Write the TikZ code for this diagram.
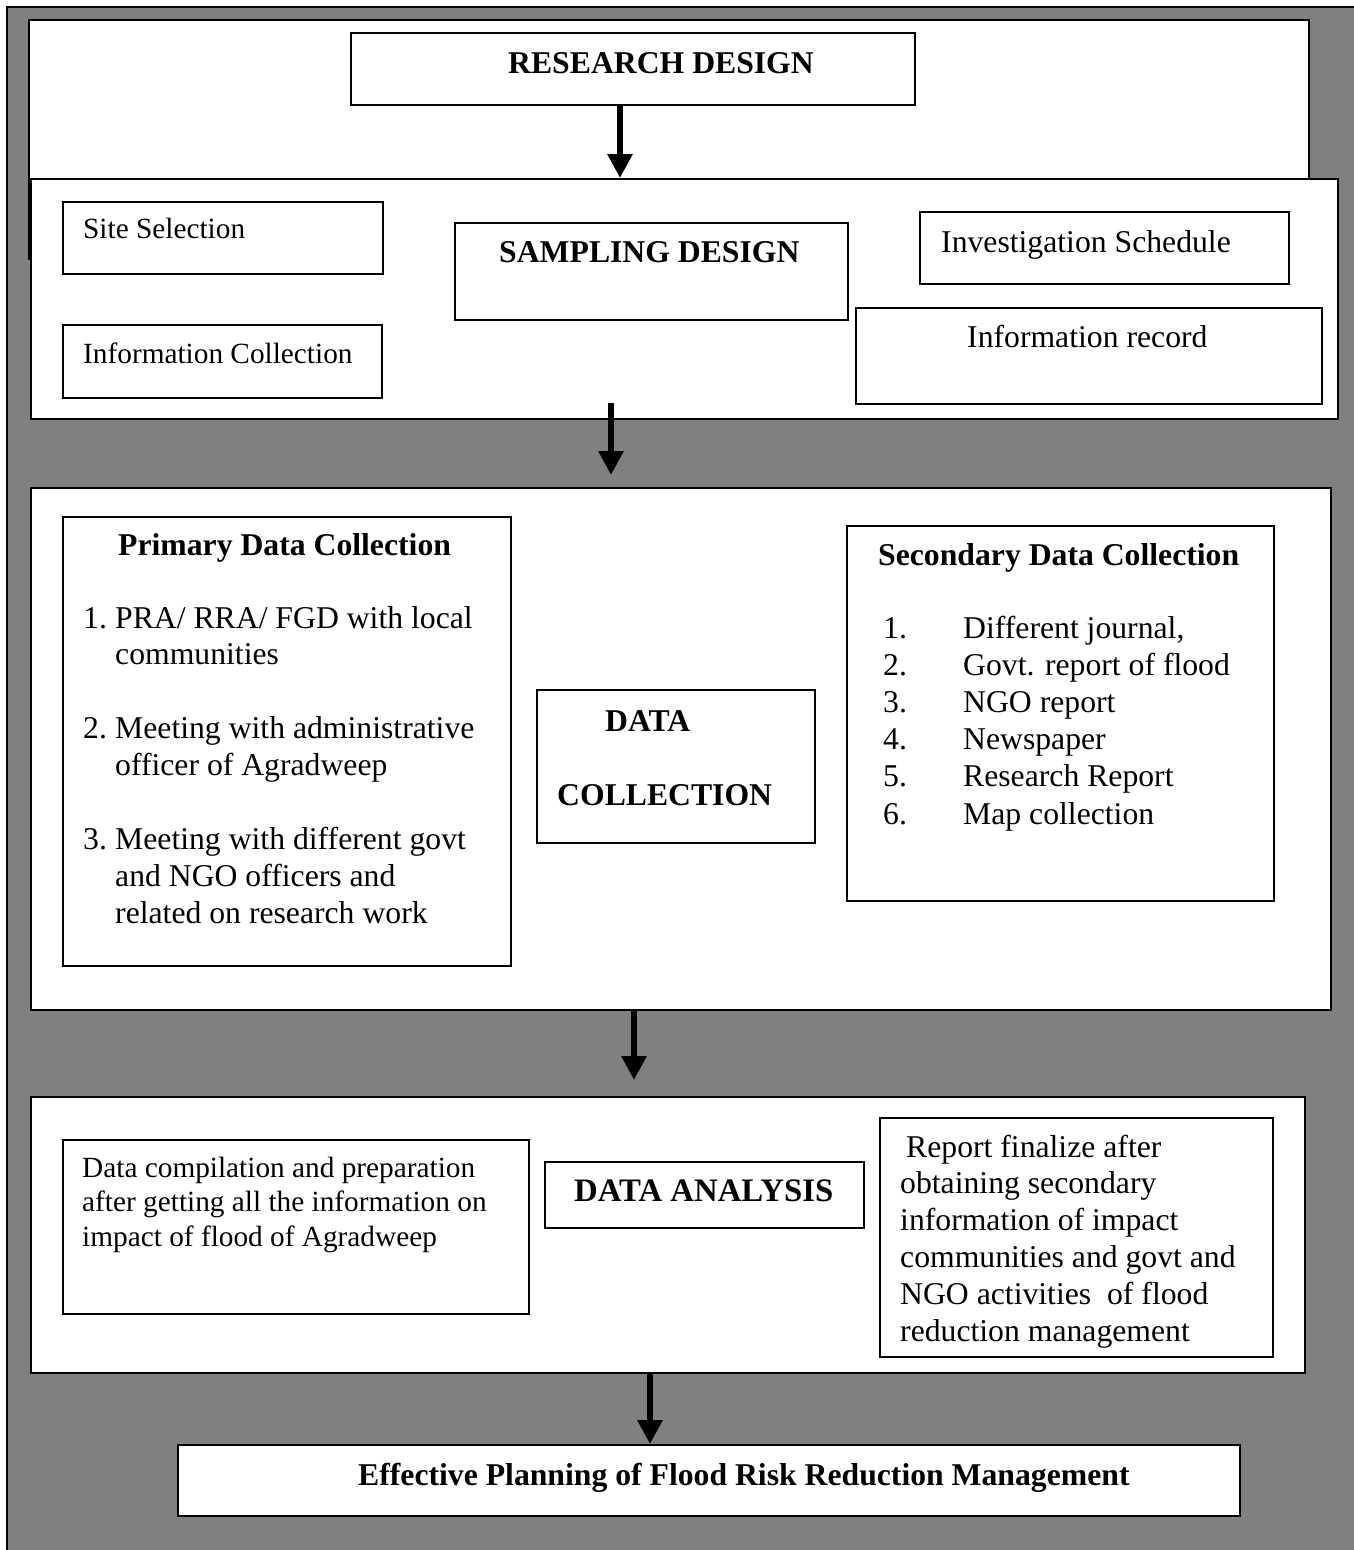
\documentclass[tikz,border=0pt]{standalone}
\usepackage{fontspec}
\setmainfont{Liberation Serif}
\usetikzlibrary{arrows.meta}
\definecolor{bggray}{HTML}{808080}
\newcommand\tlines[2]{\vtop{\baselineskip=#1\lineskiplimit=-1000pt\lineskip=0pt #2}}
\tikzset{
 panel/.style={draw=black, fill=white, line width=2pt, inner sep=0pt, anchor=north west},
 bx/.style={draw=black, fill=white, line width=1.6pt, inner sep=0pt, anchor=north west},
 txt/.style={anchor=base west, inner sep=0pt, font=\fontsize{31.7}{37}\selectfont},
 btxt/.style={anchor=base west, inner sep=0pt, font=\fontsize{31.7}{37}\selectfont\bfseries},
 stxt/.style={anchor=base west, inner sep=0pt, font=\fontsize{29.3}{34}\selectfont},
 arr/.style={line width=6pt, -{Triangle[width=24pt,length=24pt]}},
}
\begin{document}
\begin{tikzpicture}[x=1pt,y=-1pt]
\useasboundingbox (0,0) rectangle (1354,1550);
\fill[white] (0,0) rectangle (1354,1550);
\filldraw[fill=bggray, draw=black, line width=1.5pt] (7,7) rectangle (1380,1580);
% panels
\node[panel, minimum width=1280pt, minimum height=239pt] (p1) at (28,19) {};
\node[panel, minimum width=1307pt, minimum height=240pt] (p2) at (30,178) {};
\node[panel, minimum width=1300pt, minimum height=522pt] (p3) at (30,487) {};
\node[panel, minimum width=1274pt, minimum height=276pt] (p4) at (30,1096) {};
% boxes
\node[bx, minimum width=564pt, minimum height=72pt] (rd) at (350,32) {};
\node[bx, minimum width=320pt, minimum height=72pt] (site) at (62,201) {};
\node[bx, minimum width=393pt, minimum height=97pt] (samp) at (454,222) {};
\node[bx, minimum width=369pt, minimum height=72pt] (inv) at (919,211) {};
\node[bx, minimum width=319pt, minimum height=73pt] (icol) at (62,324) {};
\node[bx, minimum width=466pt, minimum height=96pt] (irec) at (855,307) {};
\node[bx, minimum width=448pt, minimum height=449pt] (prim) at (62,516) {};
\node[bx, minimum width=278pt, minimum height=153pt] (dcol) at (536,689) {};
\node[bx, minimum width=427pt, minimum height=375pt] (sec) at (846,525) {};
\node[bx, minimum width=466pt, minimum height=174pt] (comp) at (62,1139) {};
\node[bx, minimum width=319pt, minimum height=66pt] (anal) at (544,1161) {};
\node[bx, minimum width=393pt, minimum height=239pt] (rep) at (879,1117) {};
\node[bx, minimum width=1062pt, minimum height=71pt] (fin) at (177,1444) {};
% texts
\node[btxt] (rdT) at (508,73) {RESEARCH DESIGN};
\node[stxt] (siteT) at (83,238) {Site Selection};
\node[btxt] (sampT) at (499,262) {SAMPLING DESIGN};
\node[txt] (invT) at (941,252) {Investigation Schedule};
\node[stxt] (icolT) at (83,363) {Information Collection};
\node[txt] (irecT) at (967,347) {Information record};
\node[btxt] (primT) at (118,555) {Primary Data Collection};
\node[txt] (primL) at (83,628) {\tlines{36.9pt}{%
 \hbox{\makebox[32pt][l]{1.}PRA/ RRA/ FGD with local}%
 \hbox{\hspace*{32pt}communities}%
 \hbox{}%
 \hbox{\makebox[32pt][l]{2.}Meeting with administrative}%
 \hbox{\hspace*{32pt}officer of Agradweep}%
 \hbox{}%
 \hbox{\makebox[32pt][l]{3.}Meeting with different govt}%
 \hbox{\hspace*{32pt}and NGO officers and}%
 \hbox{\hspace*{32pt}related on research work}}};
\node[btxt] (dcolT1) at (605,731) {DATA};
\node[btxt] (dcolT2) at (557,805) {COLLECTION};
\node[btxt] (secT) at (878,565) {Secondary Data Collection};
\node[txt] (secL) at (883,638) {\tlines{37.2pt}{%
 \hbox{\makebox[80pt][l]{1.}Different journal,}%
 \hbox{\makebox[80pt][l]{2.}Govt. report of flood}%
 \hbox{\makebox[80pt][l]{3.}NGO report}%
 \hbox{\makebox[80pt][l]{4.}Newspaper}%
 \hbox{\makebox[80pt][l]{5.}Research Report}%
 \hbox{\makebox[80pt][l]{6.}Map collection}}};
\node[stxt] (compT) at (82,1177) {\tlines{34.5pt}{%
 \hbox{Data compilation and preparation}%
 \hbox{after getting all the information on}%
 \hbox{impact of flood of Agradweep}}};
\node[btxt, font=\fontsize{32.8}{37}\selectfont\bfseries] (analT) at (574,1201) {DATA ANALYSIS};
\node[txt] (repT) at (900,1157) {\tlines{36.8pt}{%
 \hbox{\hspace*{6pt}Report finalize after}%
 \hbox{obtaining secondary}%
 \hbox{information of impact}%
 \hbox{communities and govt and}%
 \hbox{NGO activities\ \ of flood}%
 \hbox{reduction management}}};
\node[btxt] (finT) at (358,1485) {Effective Planning of Flood Risk Reduction Management};
% arrows
\coordinate (x1) at (620,0);
\coordinate (a2s) at (611,403);
\coordinate (a2e) at (611,475);
\coordinate (x3) at (634,0);
\coordinate (a3e) at (634,1080);
\coordinate (x4) at (650,0);
\draw[arr] (rd.south -| x1) -- (p2.north -| x1);
\draw[arr] (a2s) -- (a2e);
\draw[arr] (p3.south -| x3) -- (a3e);
\draw[arr] (p4.south -| x4) -- (fin.north -| x4);
\end{tikzpicture}
\end{document}
